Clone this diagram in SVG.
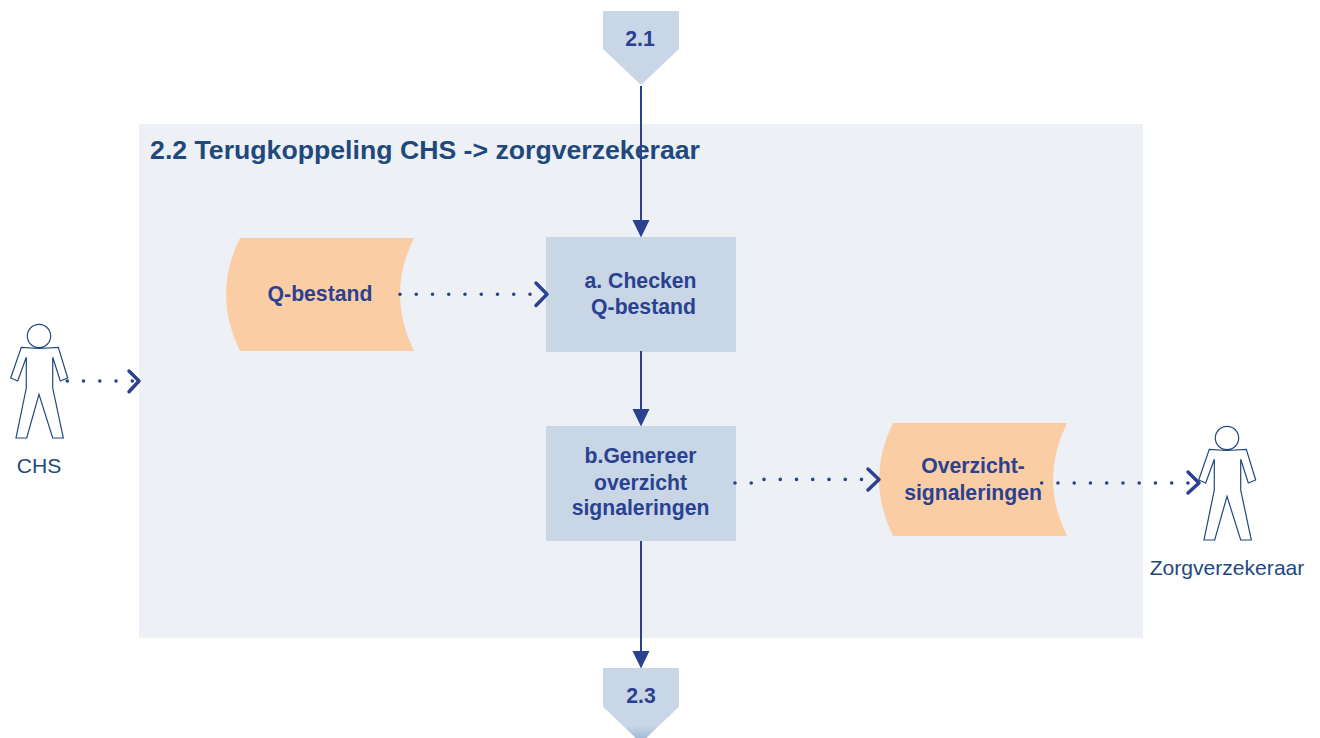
<svg xmlns="http://www.w3.org/2000/svg" width="1320" height="738" viewBox="0 0 1320 738">
<style>
text{font-family:"Liberation Sans",Arial,sans-serif;text-anchor:middle}
.b{font-weight:700;font-size:21.2px;fill:#2A4190}
.p{fill:#C8D6E6}
.o{fill:#FACDA5}
.n{font-size:21.1px;fill:#1F497D}
.fig{fill:none;stroke:#1F497D;stroke-width:1.2}
.solid{fill:none;stroke:#2A4190;stroke-width:2}
.dot{fill:none;stroke:#2A4190;stroke-width:3.6;stroke-linecap:round;stroke-dasharray:0 16.25}
.chev{fill:none;stroke:#2A4190;stroke-width:3.5;stroke-linecap:round;stroke-linejoin:round}
.head{fill:#2A4190}
</style>
<defs>
<linearGradient id="fade" gradientUnits="userSpaceOnUse" x1="0" y1="726" x2="0" y2="738"><stop offset="0" stop-color="#C8D6E6"/><stop offset="1" stop-color="#A3BAD8"/></linearGradient>
<g id="person"><circle cx="39" cy="336" r="11.7"/><path d="M21.3 347.3L39 348.5L58.3 347.3L67.7 378L60.3 381L52.7 357.3V388L63.3 438H52.7L39 394.3L26.7 438H16L26.3 388V357.3L17.7 381L10.7 378Z"/></g>
</defs>
<rect id="panel" x="139" y="124" width="1004" height="514" fill="#EDF1F6"/>
<text id="title" x="425" y="159" font-size="26.67" font-weight="700" fill="#1F497D">2.2 Terugkoppeling CHS -&gt; zorgverzekeraar</text>
<g id="node-2-1"><path class="p" d="M603 11H679V49L641 85L603 49Z"/><text class="b" x="640" y="46">2.1</text></g>
<g id="node-q"><path class="o" d="M240 238H414Q386 294.500 414 351H240Q212 294.500 240 238Z"/><text class="b" x="320" y="300.500">Q-bestand</text></g>
<g id="node-a"><rect class="p" x="546" y="237" width="190" height="115"/><text class="b" x="640.500" y="287.500">a. Checken</text><text class="b" x="643.500" y="313.500"> Q-bestand</text></g>
<g id="node-b"><rect class="p" x="546" y="426" width="190" height="115"/><text class="b" x="640.500" y="463">b.Genereer</text><text class="b" x="640.500" y="489.500">overzicht</text><text class="b" x="640.500" y="515">signaleringen</text></g>
<g id="node-o"><path class="o" d="M893 423H1067Q1039 479.500 1067 536H893Q865 479.500 893 423Z"/><text class="b" x="973" y="473">Overzicht-</text><text class="b" x="973" y="499.500">signaleringen</text></g>
<g id="node-2-3"><path fill="url(#fade)" d="M603 668H679V706.700L641 743L603 706.700Z"/><text class="b" x="641" y="703">2.3</text></g>
<g id="node-chs"><use href="#person" class="fig"/><text class="n" x="39" y="473">CHS</text></g>
<g id="node-zorg"><use href="#person" class="fig" transform="translate(1188 102)"/><text class="n" x="1227" y="575">Zorgverzekeraar</text></g>
<g id="connectors">
<path class="solid" d="M641 86V221M641 351V410M641 541V652"/>
<path class="head" d="M632.500 220H649.500L641 237.500ZM632.500 409H649.500L641 426.500ZM632.500 651H649.500L641 668.500Z"/>
<path class="dot" d="M400 294.300H534"/><path class="chev" d="M536 283L547 294.300L536 305.500"/>
<path class="dot" d="M67.300 381H134"/><path class="chev" d="M129 371L139 381L129 391.700"/>
<path class="dot" d="M735 483H753M764 479.400H865"/><path class="chev" d="M868 469L879 479.400L868 490"/>
<path class="dot" d="M1041.700 483H1190"/><path class="chev" d="M1188 472L1199 483L1188 493"/>
</g>
</svg>
